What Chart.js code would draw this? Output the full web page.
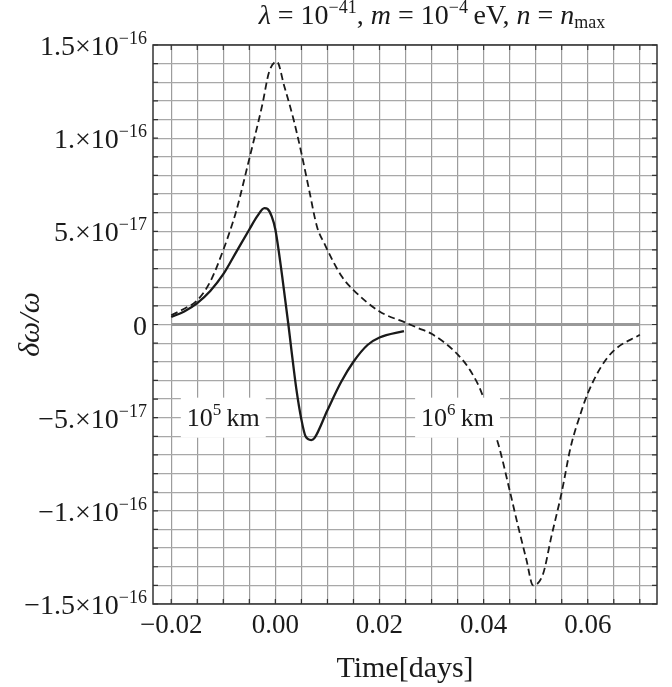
<!DOCTYPE html>
<html>
<head>
  <meta charset="UTF-8">
  <title>δω/ω vs Time</title>
  <style>
    body {
      margin: 0;
      padding: 0;
      overflow: hidden;
      background: #fff;
    }

    #chart-container {
      width: 672px;
      height: 687px;
    }
  </style>
  <script src="https://cdn.jsdelivr.net/npm/chart.js"></script>
</head>
<body>
  <div id="chart-container">
    <canvas id="chart" width="672" height="687"></canvas>
  </div>

  <script>
    // 10^5 km curve (solid)
    var timeNear = [-0.02, -0.0175, -0.015, -0.0125, -0.01, -0.0075, -0.005, -0.0035, -0.0021, -0.0015,
      -0.0007, 0.0, 0.0014, 0.0025, 0.0031, 0.004, 0.005, 0.0058, 0.0069, 0.0075,
      0.01, 0.0126, 0.015, 0.0177, 0.02, 0.0247];
    var shiftNear = [0.4e-17, 0.7e-17, 1.15e-17, 1.8e-17, 2.7e-17, 3.9e-17, 5.1e-17, 5.8e-17, 6.25e-17, 6.2e-17,
      5.8e-17, 5.1e-17, 2.4e-17, 0, -1.4e-17, -3.4e-17, -5.1e-17, -6.0e-17, -6.2e-17, -6.1e-17,
      -4.6e-17, -3.1e-17, -2.0e-17, -1.1e-17, -0.7e-17, -0.35e-17];

    // 10^6 km curve (dashed)
    var timeFar = [-0.02, -0.0175, -0.015, -0.0125, -0.01, -0.0085, -0.0075, -0.005, -0.0025, -0.0012,
      0.0003, 0.0017, 0.0035, 0.005, 0.0065, 0.008, 0.0094, 0.0127, 0.015, 0.02,
      0.025, 0.0275, 0.03, 0.035, 0.0375, 0.0398, 0.041, 0.0428, 0.045, 0.0466,
      0.0482, 0.0495, 0.0514, 0.053, 0.055, 0.0567, 0.0586, 0.06, 0.0625, 0.065, 0.07];
    var shiftFar = [0.5e-17, 0.85e-17, 1.3e-17, 2.3e-17, 4.0e-17, 5.2e-17, 6.1e-17, 8.9e-17, 11.8e-17, 13.55e-17,
      14.1e-17, 12.8e-17, 11.0e-17, 9.2e-17, 7.2e-17, 5.25e-17, 4.35e-17, 2.6e-17, 1.85e-17, 0.7e-17,
      0.1e-17, -0.2e-17, -0.5e-17, -1.6e-17, -2.5e-17, -3.8e-17, -5.0e-17, -6.4e-17, -8.9e-17, -10.8e-17,
      -12.6e-17, -14.0e-17, -13.4e-17, -11.4e-17, -9.0e-17, -6.6e-17, -4.8e-17, -3.7e-17, -2.3e-17, -1.4e-17, -0.55e-17];

    // zero reference line
    var timeZero = [-0.02, 0.07];
    var shiftZero = [0, 0];

    // axis labels
    var xTickValues = [-0.02, 0.0, 0.02, 0.04, 0.06];
    var xTickLabels = ['\u22120.02', '0.00', '0.02', '0.04', '0.06'];
    var yTickValues = [1.5e-16, 1e-16, 5e-17, 0, -5e-17, -1e-16, -1.5e-16];
    var yTickMantissa = ['1.5', '1.', '5.', '0', '\u22125.', '\u22121.', '\u22121.5'];
    var yTickExponent = ['\u221216', '\u221216', '\u221217', '', '\u221217', '\u221216', '\u221216'];

    // curve labels
    var noteTime = [-0.01, 0.035];
    var noteShift = [-5e-17, -5e-17];
    var notePower = ['5', '6'];

    var SERIF = '"Liberation Serif", "DejaVu Serif", serif';

    function toPoints(xs, ys) {
      var pts = [];
      for (var i = 0; i < xs.length; i++) {
        pts.push({ x: xs[i], y: ys[i] });
      }
      return pts;
    }

    function measureParts(ctx, parts) {
      var total = 0;
      parts.forEach(function (p) {
        ctx.font = p.font;
        total += ctx.measureText(p.t).width;
      });
      return total;
    }

    // draws a row of text pieces (for superscripts / italics)
    function drawParts(ctx, parts, x, y, align) {
      var total = measureParts(ctx, parts);
      var cx = x;
      if (align === 'right') cx = x - total;
      if (align === 'center') cx = x - total / 2;
      parts.forEach(function (p) {
        ctx.font = p.font;
        ctx.fillText(p.t, cx, y + (p.dy || 0));
        cx += ctx.measureText(p.t).width;
      });
      return total;
    }

    var frame = {
      id: 'frame',
      afterDatasetsDraw: function (chart) {
        var ctx = chart.ctx;
        var xs = chart.scales.x, ys = chart.scales.y;
        ctx.save();
        ctx.textAlign = 'left';
        ctx.textBaseline = 'alphabetic';
        for (var i = 0; i < noteTime.length; i++) {
          var px = xs.getPixelForValue(noteTime[i]);
          var py = ys.getPixelForValue(noteShift[i]);
          var parts = [
            { t: '10', font: '26px ' + SERIF },
            { t: notePower[i], font: '17px ' + SERIF, dy: -11 },
            { t: '\u2009km', font: '26px ' + SERIF }
          ];
          var w = measureParts(ctx, parts);
          ctx.fillStyle = '#fff';
          ctx.fillRect(px - w / 2 - 6, py - 20, w + 12, 40);
          ctx.fillStyle = '#1a1a1a';
          drawParts(ctx, parts, px, py + 8, 'center');
        }
        ctx.restore();
      },
      afterDraw: function (chart) {
        var ctx = chart.ctx;
        var area = chart.chartArea;
        var xs = chart.scales.x, ys = chart.scales.y;
        ctx.save();

        // box and inward ticks
        ctx.strokeStyle = '#333';
        ctx.lineWidth = 1.5;
        ctx.strokeRect(area.left, area.top, area.right - area.left, area.bottom - area.top);
        ctx.lineWidth = 1.2;
        ctx.beginPath();
        xs.ticks.forEach(function (t) {
          var p = xs.getPixelForValue(t.value);
          ctx.moveTo(p, area.bottom); ctx.lineTo(p, area.bottom - 5);
          ctx.moveTo(p, area.top); ctx.lineTo(p, area.top + 5);
        });
        ys.ticks.forEach(function (t) {
          var p = ys.getPixelForValue(t.value);
          ctx.moveTo(area.left, p); ctx.lineTo(area.left + 5, p);
          ctx.moveTo(area.right, p); ctx.lineTo(area.right - 5, p);
        });
        ctx.stroke();

        ctx.fillStyle = '#1a1a1a';
        ctx.textBaseline = 'alphabetic';

        // x tick labels
        ctx.font = '27px ' + SERIF;
        ctx.textAlign = 'center';
        for (var i = 0; i < xTickValues.length; i++) {
          ctx.fillText(xTickLabels[i], xs.getPixelForValue(xTickValues[i]), area.bottom + 29);
        }

        // y tick labels
        ctx.textAlign = 'left';
        for (var j = 0; j < yTickValues.length; j++) {
          var py = ys.getPixelForValue(yTickValues[j]);
          var parts = [{ t: yTickMantissa[j], font: '28px ' + SERIF }];
          if (yTickExponent[j]) {
            parts = [
              { t: yTickMantissa[j] + '\u00d710', font: '28px ' + SERIF },
              { t: yTickExponent[j], font: '18px ' + SERIF, dy: -11 }
            ];
          }
          drawParts(ctx, parts, area.left - 6, py + 10, 'right');
        }

        // x axis title
        ctx.font = '30px ' + SERIF;
        ctx.textAlign = 'center';
        ctx.fillText('Time[days]', (area.left + area.right) / 2, 677);

        // y axis title
        ctx.save();
        ctx.translate(39, (area.top + area.bottom) / 2);
        ctx.rotate(-Math.PI / 2);
        ctx.font = 'italic 30px ' + SERIF;
        ctx.fillText('\u03b4\u03c9/\u03c9', 0, 0);
        ctx.restore();

        // plot title
        ctx.textAlign = 'left';
        var it = 'italic 28px ' + SERIF, up = '28px ' + SERIF, sm = '18px ' + SERIF;
        drawParts(ctx, [
          { t: '\u03bb', font: it },
          { t: ' = 10', font: up },
          { t: '\u221241', font: sm, dy: -11 },
          { t: ', ', font: up },
          { t: 'm', font: it },
          { t: ' = 10', font: up },
          { t: '\u22124', font: sm, dy: -11 },
          { t: '\u2009eV, ', font: up },
          { t: 'n', font: it },
          { t: ' = ', font: up },
          { t: 'n', font: it },
          { t: 'max', font: sm, dy: 4 }
        ], 432, 24, 'center');

        ctx.restore();
      }
    };

    var ctx = document.getElementById('chart').getContext('2d');
    var chart = new Chart(ctx, {
      type: 'line',
      data: {
        datasets: [{
          label: '10^5 km',
          data: toPoints(timeNear, shiftNear),
          borderColor: '#1a1a1a',
          borderWidth: 2.3,
          pointRadius: 0,
          cubicInterpolationMode: 'monotone',
          order: 1
        }, {
          label: '10^6 km',
          data: toPoints(timeFar, shiftFar),
          borderColor: '#1a1a1a',
          borderWidth: 1.8,
          borderDash: [7, 4],
          pointRadius: 0,
          cubicInterpolationMode: 'monotone',
          order: 2
        }, {
          label: 'zero',
          data: toPoints(timeZero, shiftZero),
          borderColor: '#999',
          borderWidth: 3,
          pointRadius: 0,
          order: 3
        }]
      },
      options: {
        responsive: false,
        animation: false,
        layout: {
          padding: { left: 153, right: 15, top: 45, bottom: 83 }
        },
        plugins: {
          legend: { display: false },
          tooltip: { enabled: false }
        },
        scales: {
          x: {
            type: 'linear',
            min: -0.0235,
            max: 0.0733,
            ticks: { display: false, stepSize: 0.005, includeBounds: false },
            grid: { color: '#9c9c9c', lineWidth: 1.2, drawTicks: false },
            border: { display: false }
          },
          y: {
            type: 'linear',
            min: -1.5e-16,
            max: 1.5e-16,
            ticks: { display: false, stepSize: 1e-17, includeBounds: false },
            grid: { color: '#a8a8a8', lineWidth: 1.2, drawTicks: false },
            border: { display: false }
          }
        }
      },
      plugins: [frame]
    });
  </script>
</body>
</html>
